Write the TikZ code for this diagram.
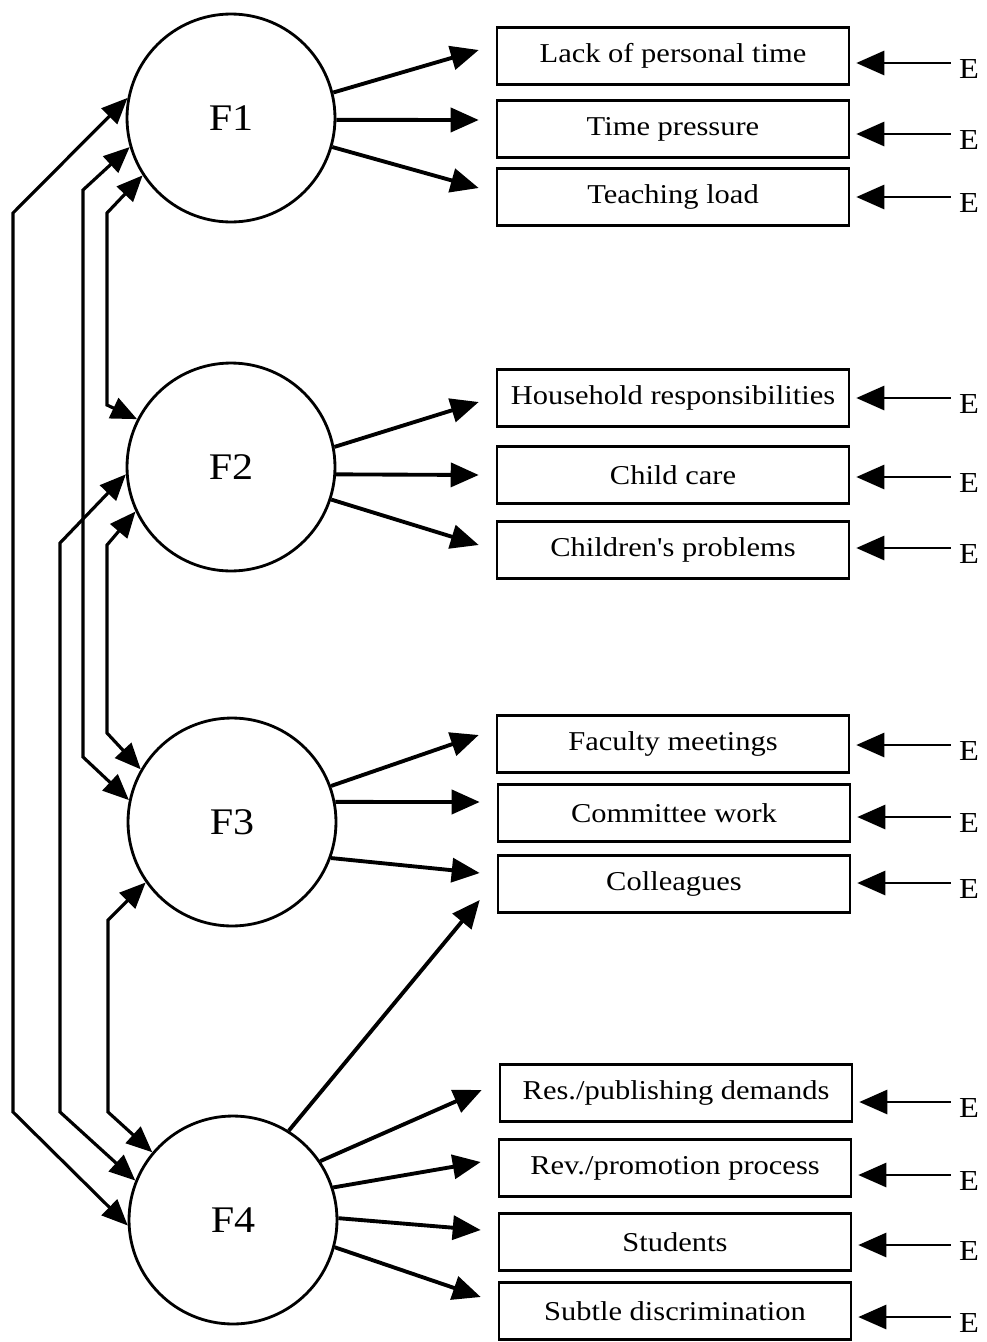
\documentclass[tikz,border=0pt]{standalone}
\usepackage{fontspec}
\setmainfont{Liberation Serif}[Ligatures=TeXOff,FakeStretch=1.12]
\usetikzlibrary{arrows.meta}
\tikzset{
    factor/.style={circle,draw,line width=1.6pt,minimum size=4.16cm,inner sep=0pt,font=\fontsize{21.4}{25}\selectfont},
    item/.style={draw,line width=1.5pt,minimum width=7.04cm,minimum height=1.14cm,inner sep=0pt,font=\fontsize{15.5}{19}\selectfont},
    err/.style={font=\fontsize{16.5}{19}\selectfont},
    arr/.style={->,>={Triangle[length=0.56cm,width=0.48cm]},line width=2.2pt},
    earr/.style={arr,line width=1.6pt,shorten >=0.12cm,shorten <=0.04cm},
    darr/.style={<->,>={Triangle[length=0.52cm,width=0.44cm]},line width=1.8pt},
}

\begin{document}
\begin{tikzpicture}[x=0.02cm,y=-0.02cm]
    \useasboundingbox (0,0) rectangle (987,1342);
    % factors
    \node[factor] (F1) at (231,118) {F1};
    \node[factor] (F2) at (231,467) {F2};
    \node[factor] (F3) at (232,822) {F3};
    \node[factor] (F4) at (233,1220) {F4};
    % observed items
    \node[item] (b1) at (673,56) {Lack of personal time};
    \node[item] (b2) at (673,129) {Time pressure};
    \node[item] (b3) at (673,197) {Teaching load};
    \node[item] (b4) at (673,398) {Household responsibilities};
    \node[item] (b5) at (673,475) {Child care};
    \node[item] (b6) at (673,550) {Children's problems};
    \node[item] (b7) at (673,744) {Faculty meetings};
    \node[item] (b8) at (674,813) {Committee work};
    \node[item] (b9) at (674,884) {Colleagues};
    \node[item] (b10) at (676,1093) {Res./publishing demands};
    \node[item] (b11) at (675,1168) {Rev./promotion process};
    \node[item] (b12) at (675,1242) {Students};
    \node[item] (b13) at (675,1311) {Subtle discrimination};
    % error terms
    \node[err] (e1) at (969,69) {E};
    \node[err] (e2) at (969,140) {E};
    \node[err] (e3) at (969,203) {E};
    \node[err] (e4) at (969,404) {E};
    \node[err] (e5) at (969,483) {E};
    \node[err] (e6) at (969,554) {E};
    \node[err] (e7) at (969,751) {E};
    \node[err] (e8) at (969,823) {E};
    \node[err] (e9) at (969,889) {E};
    \node[err] (e10) at (969,1108) {E};
    \node[err] (e11) at (969,1181) {E};
    \node[err] (e12) at (969,1251) {E};
    \node[err] (e13) at (969,1323) {E};
    \foreach \i in {1,...,13}
        \draw[earr] ([yshift=0.12cm]e\i.west) -- ([yshift=0.12cm]e\i.west -| b\i.east);
    % loadings
    \draw[arr] (F1.14) -- ([shift={(-17,-6)}]b1.west);
    \draw[arr] (F1.-1) -- ([shift={(-17,-9)}]b2.west);
    \draw[arr] (F1.-16) -- ([shift={(-17,-9)}]b3.west);
    \draw[arr] (F2.11) -- ([shift={(-17,4)}]b4.west);
    \draw[arr] (F2.-4) -- ([shift={(-17,0)}]b5.west);
    \draw[arr] (F2.-18) -- ([shift={(-17,-5)}]b6.west);
    \draw[arr] (F3.20) -- ([shift={(-17,-9)}]b7.west);
    \draw[arr] (F3.11) -- ([shift={(-17,-11)}]b8.west);
    \draw[arr] (F3.-20) -- ([shift={(-17,-11)}]b9.west);
    \draw[arr] (F4.58) -- ([shift={(-17,16)}]b9.west);
    \draw[arr] (F4.34) -- ([shift={(-17,-3)}]b10.west);
    \draw[arr] (F4.18) -- ([shift={(-17,-6)}]b11.west);
    \draw[arr] (F4.1) -- ([shift={(-17,-12)}]b12.west);
    \draw[arr] (F4.-15) -- ([shift={(-17,-14)}]b13.west);
    % factor correlations
    \draw[darr] (F1.169) -- (13,213) -- (13,1112) -- (F4.183);
    \draw[darr] (F1.196) -- (83,190) -- (83,757) -- (F3.168);
    \draw[darr] (F1.213) -- (107,213) -- (107,405) -- (F2.153);
    \draw[darr] (F2.184) -- (60,543) -- (60,1112) -- (F4.158);
    \draw[darr] (F2.205) -- (107,545) -- (107,733) -- (F3.150);
    \draw[darr] (F3.215) -- (108,920) -- (108,1112) -- (F4.140);
\end{tikzpicture}
\end{document}
